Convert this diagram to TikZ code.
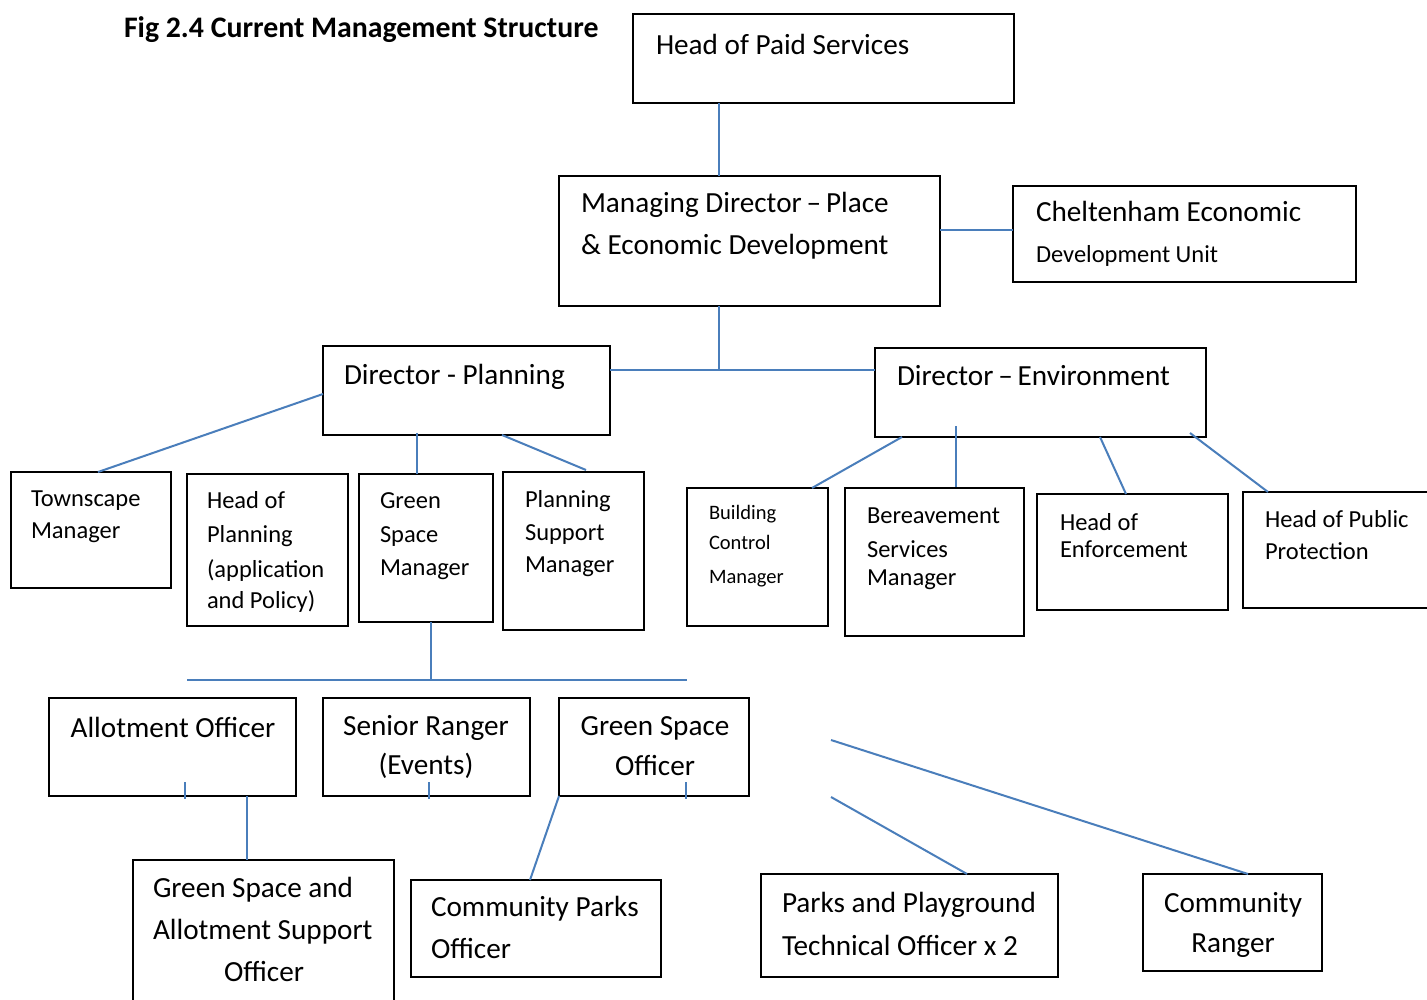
\documentclass[tikz,border=0pt]{standalone}
\usepackage{fontspec}
\setmainfont{Carlito}
\definecolor{lnblue}{RGB}{74,126,187}
\tikzset{
  box/.style={draw=black, line width=2pt, rectangle, inner sep=0pt, outer sep=0pt},
  big/.style={inner sep=0pt, outer sep=0pt, font=\fontsize{29.2}{35}\selectfont, anchor=base west},
  mid/.style={inner sep=0pt, outer sep=0pt, font=\fontsize{24.5}{29}\selectfont, anchor=base west},
  sml/.style={inner sep=0pt, outer sep=0pt, font=\fontsize{20.5}{25}\selectfont, anchor=base west},
  ttl/.style={inner sep=0pt, outer sep=0pt, font=\fontsize{29.8}{34}\selectfont\bfseries, anchor=base west},
  link/.style={draw=lnblue, line width=2pt},
}
\newcommand\bx[5]{\node[box, minimum width={#4-#2}, minimum height={#5-#3}] (#1) at ({(#2+#4)/2},{(#3+#5)/2}) {};}
\begin{document}
\begin{tikzpicture}[x=1pt,y=-1pt]
\fill[white] (0,0) rectangle (1427,1000);
\useasboundingbox (0,0) rectangle (1427,1000);

% title
\node[ttl] (title) at (124,38) {Fig 2.4 Current Management Structure};

% boxes
\bx{hps}{633}{14}{1014}{103}
\bx{md}{559}{176}{940}{306}
\bx{ch}{1013}{186}{1356}{282}
\bx{dp}{323}{346}{610}{435}
\bx{de}{875}{348}{1206}{437}
\bx{ts}{11}{472}{171}{588}
\bx{hpl}{187}{474}{348}{626}
\bx{gsm}{359}{474}{493}{622}
\bx{psm}{503}{472}{644}{630}
\bx{bc}{687}{488}{828}{626}
\bx{bs}{845}{488}{1024}{636}
\bx{he}{1037}{494}{1228}{610}
\bx{hp}{1243}{492}{1432}{608}
\bx{ao}{49}{698}{296}{796}
\bx{sr}{323}{698}{530}{796}
\bx{gso}{559}{698}{749}{796}
\bx{gsa}{133}{860}{394}{1006}
\bx{cpo}{411}{880}{661}{977}
\bx{ppt}{761}{874}{1058}{977}
\bx{cr}{1143}{874}{1322}{971}

% texts
\node[big] (hps-t) at (656,55) {Head of Paid Services};
\node[big] (md-t1) at (581,213) {Managing Director\,–\,Place};
\node[big] (md-t2) at (581,255) {\& Economic Development};
\node[big] (ch-t1) at (1036,222) {Cheltenham Economic};
\node[mid] (ch-t2) at (1036,263) {Development Unit};
\node[big] (dp-t) at (344,384) {Director - Planning};
\node[big] (de-t) at (897,385) {Director\,–\,Environment};

\node[mid] (ts-t1) at (31,506) {Townscape};
\node[mid] (ts-t2) at (31,538) {Manager};
\node[mid] (hpl-t1) at (207,508) {Head of};
\node[mid] (hpl-t2) at (207,542) {Planning};
\node[mid] (hpl-t3) at (207,577) {(application};
\node[mid] (hpl-t4) at (207,608) {and Policy)};
\node[mid] (gsm-t1) at (380,508) {Green};
\node[mid] (gsm-t2) at (380,542) {Space};
\node[mid] (gsm-t3) at (380,575) {Manager};
\node[mid] (psm-t1) at (525,507) {Planning};
\node[mid] (psm-t2) at (525,540) {Support};
\node[mid] (psm-t3) at (525,572) {Manager};
\node[sml] (bc-t1) at (709,519) {Building};
\node[sml] (bc-t2) at (709,549) {Control};
\node[sml] (bc-t3) at (709,583) {Manager};
\node[mid] (bs-t1) at (867,523) {Bereavement};
\node[mid] (bs-t2) at (867,557) {Services};
\node[mid] (bs-t3) at (867,585) {Manager};
\node[mid] (he-t1) at (1060,530) {Head of};
\node[mid] (he-t2) at (1060,557) {Enforcement};
\node[mid] (hp-t1) at (1265,527) {Head of Public};
\node[mid] (hp-t2) at (1265,559) {Protection};

\node[big, anchor=base] (ao-t) at (173,737) {Allotment Officer};
\node[big, anchor=base] (sr-t1) at (426,735) {Senior Ranger};
\node[big, anchor=base] (sr-t2) at (426,774) {(Events)};
\node[big, anchor=base] (gso-t1) at (655,735) {Green Space};
\node[big, anchor=base] (gso-t2) at (655,775) {Officer};
\node[big] (gsa-t1) at (153,897) {Green Space and};
\node[big] (gsa-t2) at (153,939) {Allotment Support};
\node[big, anchor=base] (gsa-t3) at (264,981) {Officer};
\node[big] (cpo-t1) at (431,916) {Community Parks};
\node[big] (cpo-t2) at (431,958) {Officer};
\node[big] (ppt-t1) at (782,912) {Parks and Playground};
\node[big] (ppt-t2) at (782,955) {Technical Officer x 2};
\node[big, anchor=base] (cr-t1) at (1233,912) {Community};
\node[big, anchor=base] (cr-t2) at (1233,952) {Ranger};

% junction coordinates
\coordinate (trunk) at (719,0);
\coordinate (hbar) at (0,370);
\coordinate (chbar) at (0,230);
\coordinate (busL) at (187,680);
\coordinate (busR) at (687,680);
\coordinate (busJ) at (431,680);
\coordinate (f1) at (831,797);
\coordinate (f2) at (831,740);

% connectors
\draw[link] (hps.south -| trunk) -- (md.north -| trunk);
\draw[link] (md.south -| trunk) -- (trunk |- hbar);
\draw[link] (dp.east |- hbar) -- (de.west |- hbar);
\draw[link] (md.east |- chbar) -- (ch.west |- chbar);

\draw[link] ([yshift=-3.5]dp.west) -- ([xshift=7]ts.north);
\draw[link] ([xshift=-49.5,yshift=2]dp.south) -- ([xshift=-9]gsm.north);
\draw[link] ([xshift=35.5]dp.south) -- ([xshift=12.5,yshift=2]psm.north);

\draw[link] ([xshift=-138.5]de.south) -- ([xshift=54.5]bc.north);
\draw[link] ([xshift=-84.5,yshift=11]de.south) -- ([xshift=21.5,yshift=1]bs.north);
\draw[link] ([xshift=59.5]de.south) -- ([xshift=-6.5]he.north);
\draw[link] ([xshift=149.5,yshift=4]de.south) -- ([xshift=-69.5]hp.north);

\draw[link] ([xshift=5]gsm.south) -- (busJ);
\draw[link] (busL) -- (busR);

\draw[link] ([xshift=12.5,yshift=14]ao.south) -- ([xshift=12.5,yshift=-3]ao.south);
\draw[link] ([xshift=2.5,yshift=14]sr.south) -- ([xshift=2.5,yshift=-3]sr.south);
\draw[link] ([xshift=32,yshift=14]gso.south) -- ([xshift=32,yshift=-3]gso.south);

\draw[link] ([xshift=74.5]ao.south) -- ([xshift=-16.5]gsa.north);
\draw[link] (gso.south west) -- ([xshift=-6]cpo.north);
\draw[link] (f1) -- ([xshift=57.5]ppt.north);
\draw[link] (f2) -- ([xshift=15.5]cr.north);
\end{tikzpicture}
\end{document}
